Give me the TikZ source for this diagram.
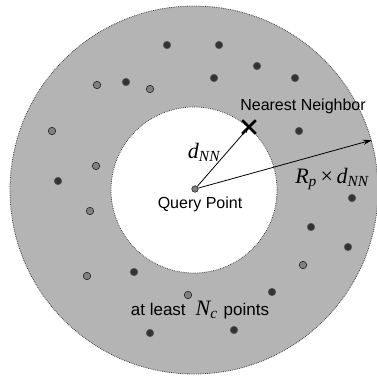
\documentclass[tikz,border=0pt]{standalone}
\usepackage{fontspec}
\setmainfont{Liberation Serif}
\newfontfamily\lsans{Liberation Sans}
\usetikzlibrary{arrows.meta,shapes.misc}
\definecolor{shade}{RGB}{180,180,180}
\begin{document}
\begin{tikzpicture}[x=1pt,y=-1pt,
  dot/.style={circle,fill=black!80,draw=black!65,line width=0.6pt,inner sep=0pt,minimum size=7.5pt},
  ldot/.style={dot,fill=black!50,draw=black!85},
  lbl/.style={font=\lsans\fontsize{16}{18}\selectfont,inner sep=0pt},
  mlbl/.style={font=\fontsize{22}{24}\selectfont,inner sep=0pt},
  ring/.style={draw=black!75,densely dotted,line width=0.8pt},
  ray/.style={line width=0.8pt}]
\useasboundingbox (0,0) rectangle (377,376);
\coordinate (c) at (194,190);
\filldraw[fill=shade,ring] (c) circle (184pt);
\filldraw[fill=white,ring] (c) circle (83pt);
% scattered points
\foreach \x/\y in {167/45,219/45,257/66,126/82,214/78,295/78,299/131,58/181,352/198,311/227,348/247,134/272,272/292,150/333,234/330}
  \node[dot] at (\x,\y) {};
\foreach \x/\y in {97/85,150/89,52/131,96/166,90/211,303/265,87/276,188/295}
  \node[ldot] at (\x,\y) {};
% query point and rays
\node[ldot,minimum size=6.5pt] (q) at (195,189) {};
\node[draw=black,cross out,line width=2.6pt,minimum size=11pt,inner sep=0pt] (nn) at (249,127) {};
\coordinate (rp) at (372,140);
\draw[ray,-{Latex[length=6pt,width=4pt]}] (q) -- (nn.center);
\draw[ray,-{Stealth[length=9pt,width=5pt]}] (q) -- (rp);
% labels
\node[lbl,anchor=base] (nnl) at (303,110) {Nearest Neighbor};
\node[lbl,anchor=base] (ql) at (200,208) {Query Point};
\node[mlbl,anchor=base] (dl) at (204,158) {\itshape d\textsubscript{\itshape NN}};
\node[mlbl,anchor=base] (rl) at (332,183) {\itshape R\textsubscript{\itshape p}\,\upshape×\,\itshape d\textsubscript{\itshape NN}};
\node[lbl,font=\lsans\fontsize{17}{19}\selectfont,anchor=base] (al) at (200,315) {at least\hspace{10pt}{\rmfamily\itshape\fontsize{22}{24}\selectfont N\textsubscript{\itshape c}}\hspace{6pt}points};
\end{tikzpicture}
\end{document}
